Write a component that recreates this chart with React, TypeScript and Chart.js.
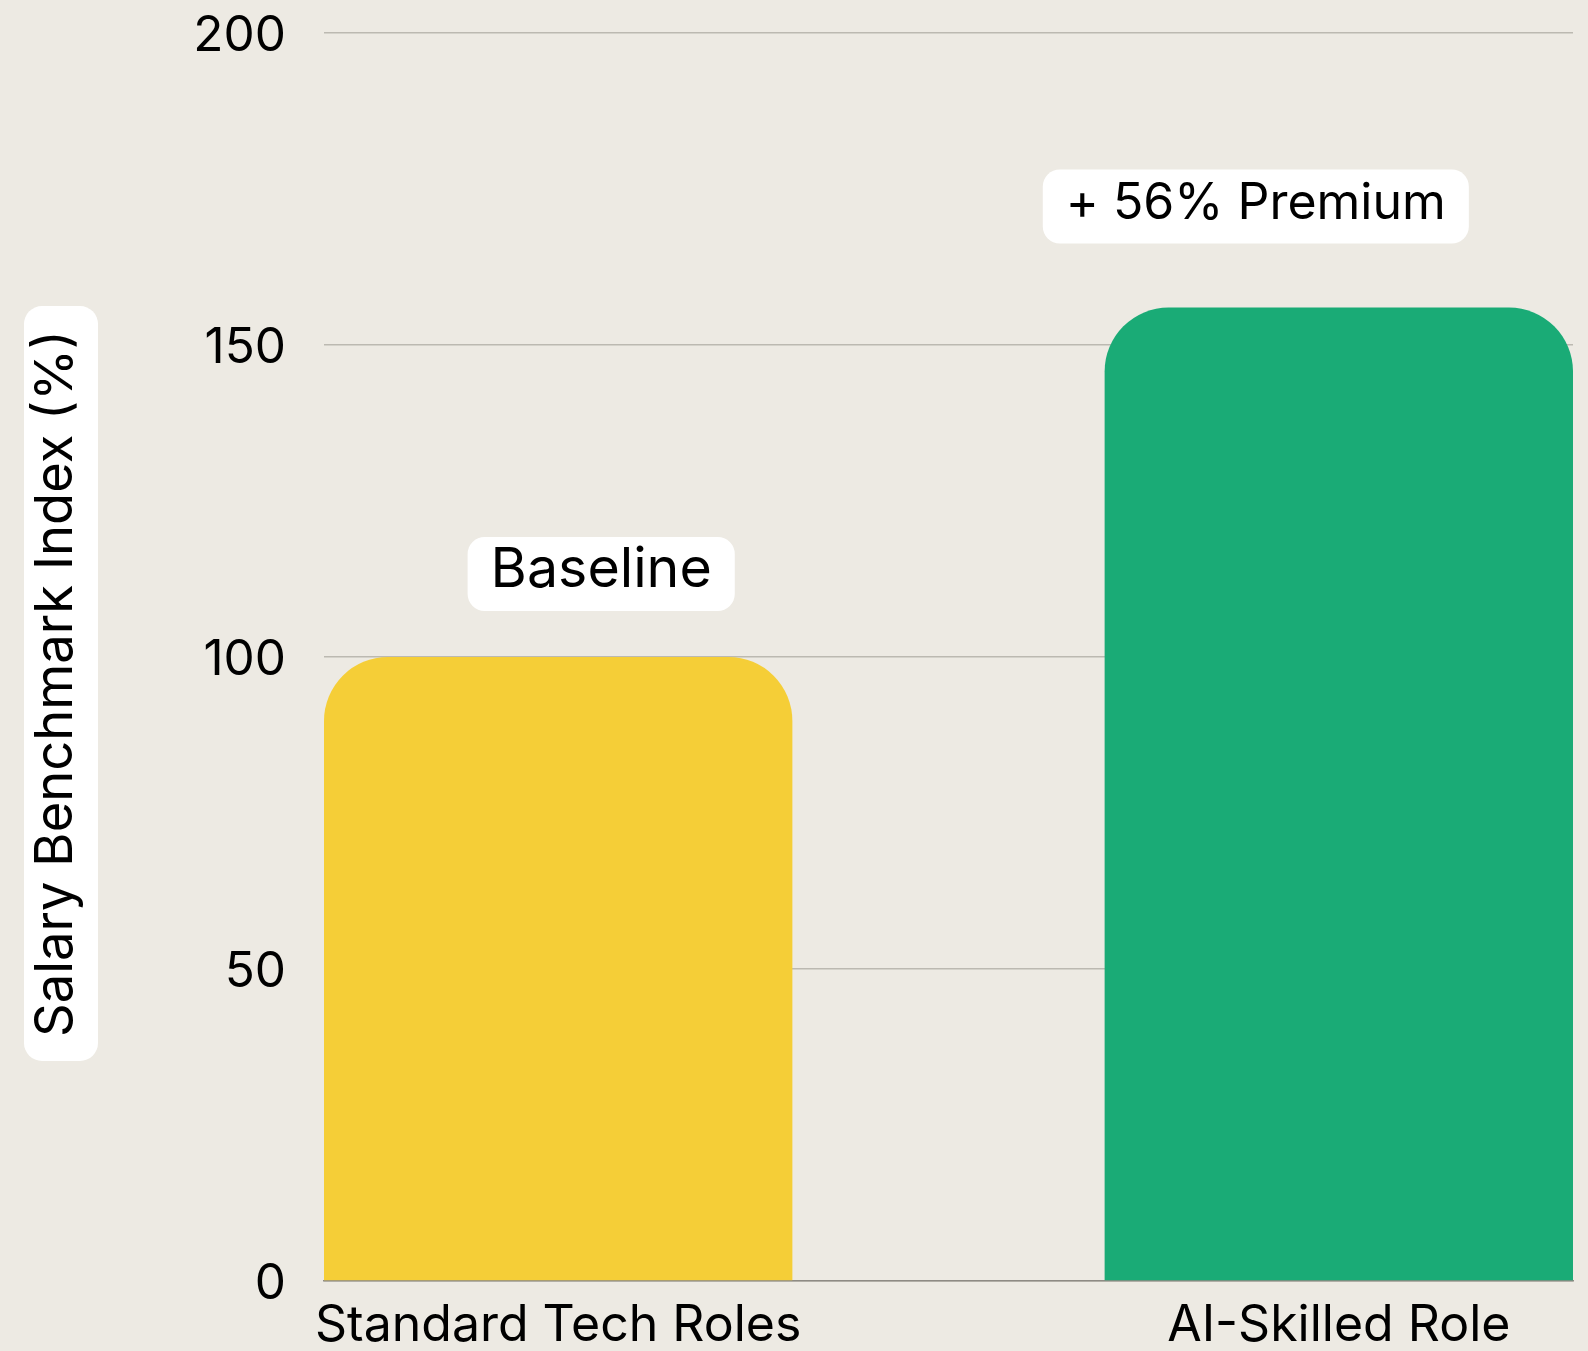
import React, { useEffect, useRef } from "react";
import { Chart, registerables } from "chart.js";

Chart.register(...registerables);

const categories = ["Standard Tech Roles", "AI-Skilled Role"];
const values = [100, 156];
const barColors = ["#F5CE37", "#1AAB76"];
const annotationTexts = ["Baseline", "+ 56% Premium"];
const yTicks = [0, 50, 100, 150, 200];
const yTitle = "Salary Benchmark Index (%)";

const FONT = "Inter, 'Noto Sans', sans-serif";
const BG = "#EDEAE3";

function roundRect(ctx: CanvasRenderingContext2D, x: number, y: number, w: number, h: number, r: number) {
  ctx.beginPath();
  ctx.moveTo(x + r, y);
  ctx.lineTo(x + w - r, y);
  ctx.arcTo(x + w, y, x + w, y + r, r);
  ctx.lineTo(x + w, y + h - r);
  ctx.arcTo(x + w, y + h, x + w - r, y + h, r);
  ctx.lineTo(x + r, y + h);
  ctx.arcTo(x, y + h, x, y + h - r, r);
  ctx.lineTo(x, y + r);
  ctx.arcTo(x, y, x + r, y, r);
  ctx.closePath();
}

const labelPlugin = {
  id: "labelBoxes",
  afterDatasetsDraw(chart: any) {
    const ctx: CanvasRenderingContext2D = chart.ctx;
    const meta = chart.getDatasetMeta(0);
    // annotation placement relative to bar top (layout only)
    const dx = [43, -83];
    const gap = [46, 64];
    const fontSizes = [55.5, 50];
    const textTop = [50, 49];
    const boxH = 74;
    ctx.save();
    ctx.textBaseline = "alphabetic";
    ctx.textAlign = "center";
    meta.data.forEach((bar: any, i: number) => {
      const text = annotationTexts[i];
      ctx.font = `400 ${fontSizes[i]}px ${FONT}`;
      const w = ctx.measureText(text).width + 46;
      const cx = bar.x + dx[i];
      const bottom = bar.y - gap[i];
      const top = bottom - boxH;
      ctx.fillStyle = "#FFFFFF";
      roundRect(ctx, cx - w / 2, top, w, boxH, 17);
      ctx.fill();
      ctx.fillStyle = "#000000";
      ctx.fillText(text, cx, top + textTop[i]);
    });

    // y-axis title with white rounded box
    ctx.font = `400 52.5px ${FONT}`;
    const tw = ctx.measureText(yTitle).width;
    const cy = 675.5;
    const boxW = 74;
    const boxLen = tw + 48;
    ctx.fillStyle = "#FFFFFF";
    roundRect(ctx, 16, cy - boxLen / 2, boxW, boxLen, 18);
    ctx.fill();
    ctx.translate(64, cy);
    ctx.rotate(-Math.PI / 2);
    ctx.fillStyle = "#000000";
    ctx.textAlign = "center";
    ctx.fillText(yTitle, 0, 0);
    ctx.restore();
  },
};

export default function App() {
  const ref = useRef<HTMLCanvasElement | null>(null);

  useEffect(() => {
    if (!ref.current) return;
    Chart.defaults.font.family = FONT;
    const chart = new Chart(ref.current, {
      type: "bar",
      data: {
        datasets: [
          {
            data: values.map((v, i) => ({ x: i, y: v })),
            backgroundColor: barColors,
            borderRadius: 64,
            borderSkipped: "start",
            barPercentage: 0.75,
            categoryPercentage: 0.8,
          },
        ],
      },
      options: {
        animation: false,
        responsive: true,
        maintainAspectRatio: false,
        layout: { padding: { left: 0, right: 7, top: 0, bottom: 0 } },
        plugins: {
          legend: { display: false },
          tooltip: { enabled: false },
          title: { display: false },
        },
        scales: {
          x: {
            type: "linear",
            min: -0.3,
            max: 1.3,
            offset: false,
            grid: { display: false, drawTicks: false },
            border: { display: true, color: "#8E8B84", width: 1.5 },
            afterBuildTicks: (scale: any) => {
              scale.ticks = categories.map((_, i) => ({ value: i }));
            },
            ticks: {
              autoSkip: false,
              maxRotation: 0,
              padding: 15,
              color: "#000000",
              font: { size: 50, family: FONT },
              callback: (v: any) => categories[v as number] ?? "",
            },
          },
          y: {
            min: 0,
            max: 200,
            afterBuildTicks: (scale: any) => {
              scale.ticks = yTicks.map((v) => ({ value: v }));
            },
            afterFit: (scale: any) => {
              scale.width = 316;
              scale.paddingTop = 25;
              scale.paddingBottom = 25;
            },
            grid: { color: "#BCB9B1", lineWidth: 1.5, drawTicks: false },
            border: { display: false },
            ticks: {
              padding: 38,
              labelOffset: 3,
              color: "#000000",
              font: { size: 49.5, family: FONT, lineHeight: 1 },
            },
          },
        },
      },
      plugins: [labelPlugin],
    });
    return () => chart.destroy();
  }, []);

  return (
    <div style={{ position: "fixed", inset: 0, background: BG, overflow: "hidden" }}>
      <div style={{ position: "absolute", left: 8, top: 8, width: 1572, height: 1363 }}>
        <canvas ref={ref} />
      </div>
    </div>
  );
}
